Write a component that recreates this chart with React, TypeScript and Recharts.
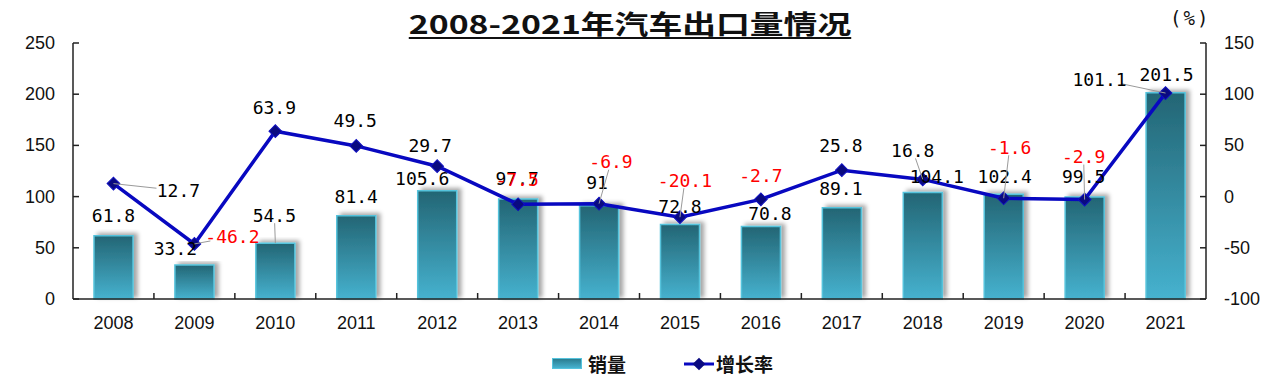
import { Bar, ComposedChart, LabelList, Line, XAxis, YAxis } from "recharts";

const YEARS = ["2008", "2009", "2010", "2011", "2012", "2013", "2014", "2015", "2016", "2017", "2018", "2019", "2020", "2021"];
const SALES = [61.8, 33.2, 54.5, 81.4, 105.6, 97.7, 91, 72.8, 70.8, 89.1, 104.1, 102.4, 99.5, 201.5];
const GROWTH = [12.7, -46.2, 63.9, 49.5, 29.7, -7.5, -6.9, -20.1, -2.7, 25.8, 16.8, -1.6, -2.9, 101.1];
const SALES_TICKS = [0, 50, 100, 150, 200, 250];
const GROWTH_TICKS = [-100, -50, 0, 50, 100, 150];

// hand-placed label offsets (like the Excel original), [dx, dy] from the anchor
const SALES_LABEL_POS = [[0, -20], [-19, -17], [-1, -28], [0, -19], [-15, -12], [-1, -20], [-2, -23], [0, -18], [9, -13], [-1, -19], [14, -16], [1, -18], [-1, -21], [1, -18]];
const GROWTH_LABEL_POS = [[65, 7], [38, -7], [-1, -24], [-1, -25], [-7, -21], [-1, -25], [12, -42], [5, -37], [0, -24], [-1, -25], [-10, -29], [6, -51], [-1, -43], [-66, -14]];

const W = 1280;
const H = 381;
const PLOT_LEFT = 73;
const PLOT_RIGHT = 1206;
const PLOT_BOTTOM = 299;
const AXIS_W = 55;
const BAND = (PLOT_RIGHT - PLOT_LEFT) / YEARS.length;

const data = YEARS.map((year, i) => ({ year, sales: SALES[i], growth: GROWTH[i] }));

const LABEL_FONT = "'DejaVu Sans Mono', 'Liberation Mono', monospace";
const AXIS_FONT = "'Liberation Sans', Arial, sans-serif";
const CJK_FONT = "'Noto Sans CJK SC', 'Noto Sans', sans-serif";

function placedLabel(ax: number, ay: number, off: number[], text: string, color: string, key: string) {
    const lx = ax + off[0];
    const ly = ay + off[1];
    const dist = Math.hypot(off[0], off[1]);
    let leader = null;
    if (dist > 27) {
        const vx = ax - lx;
        const vy = ay - ly;
        const s = Math.min(22 / Math.max(Math.abs(vx), 0.01), 8 / Math.max(Math.abs(vy), 0.01));
        leader = <line x1={ax} y1={ay} x2={lx + vx * s} y2={ly + vy * s} stroke="#9a9a9a" strokeWidth={1} />;
    }
    return (
        <g key={key}>
            {leader}
            <text x={lx} y={ly} textAnchor="middle" dominantBaseline="central" fontFamily={LABEL_FONT} fontSize={18} fill={color}>
                {text}
            </text>
        </g>
    );
}

const SalesLabel = (props: any) => {
    const { x, y, width, index, value } = props;
    return placedLabel(x + width / 2, y, SALES_LABEL_POS[index], String(value), "#000", "s" + index);
};

const GrowthLabel = (props: any) => {
    const { x, y, index, value } = props;
    return placedLabel(x, y, GROWTH_LABEL_POS[index], String(value), value < 0 ? "#ff0000" : "#000", "g" + index);
};

const Diamond = (props: any) => {
    const { cx, cy } = props;
    if (cx == null || cy == null) return null;
    return <rect x={cx - 4.5} y={cy - 4.5} width={9} height={9} fill="#0a0a80" stroke="#1010c0" strokeWidth={1} transform={`rotate(45 ${cx} ${cy})`} />;
};

const XTick = (props: any) => {
    const { x, payload, index } = props;
    return (
        <g>
            {index > 0 && <line x1={x - BAND / 2} y1={PLOT_BOTTOM} x2={x - BAND / 2} y2={PLOT_BOTTOM - 6} stroke="#222" strokeWidth={1.5} />}
            <text x={x} y={323} textAnchor="middle" dominantBaseline="central" fontFamily={AXIS_FONT} fontSize={18} fill="#111">
                {payload.value}
            </text>
        </g>
    );
};

const LeftTick = (props: any) => {
    const { y, payload } = props;
    return (
        <g>
            <line x1={PLOT_LEFT} y1={y} x2={PLOT_LEFT + 6} y2={y} stroke="#222" strokeWidth={1.5} />
            <text x={PLOT_LEFT - 18} y={y} textAnchor="end" dominantBaseline="central" fontFamily={AXIS_FONT} fontSize={18} fill="#111">
                {payload.value}
            </text>
        </g>
    );
};

const RightTick = (props: any) => {
    const { y, payload } = props;
    return (
        <g>
            <line x1={PLOT_RIGHT - 6} y1={y} x2={PLOT_RIGHT} y2={y} stroke="#222" strokeWidth={1.5} />
            <text x={PLOT_RIGHT + 18} y={y} textAnchor="start" dominantBaseline="central" fontFamily={AXIS_FONT} fontSize={18} fill="#111">
                {payload.value}
            </text>
        </g>
    );
};

export default function App() {
    return (
        <div style={{ position: "relative", width: W, height: H, background: "#fff", overflow: "hidden" }}>
            <style>{`body{margin:0}`}</style>
            <div
                style={{
                    position: "absolute",
                    left: 630,
                    top: 6,
                    transform: "translateX(-50%) scaleX(1.3)",
                    fontFamily: CJK_FONT,
                    fontWeight: 700,
                    fontSize: 26,
                    lineHeight: "34px",
                    whiteSpace: "nowrap",
                    textDecoration: "underline",
                    textUnderlineOffset: 3,
                    color: "#111",
                }}
            >
                2008-2021年汽车出口量情况
            </div>
            <div style={{ position: "absolute", left: 1170, top: 7, fontFamily: LABEL_FONT, fontSize: 19, letterSpacing: 2, color: "#111" }}>(%)</div>

            <ComposedChart
                width={W}
                height={H}
                data={data}
                margin={{ top: 43, right: W - PLOT_RIGHT - AXIS_W, bottom: H - PLOT_BOTTOM - 30, left: PLOT_LEFT - AXIS_W }}
            >
                <defs>
                    <linearGradient id="barFill" x1="0" y1="0" x2="0" y2="1">
                        <stop offset="0%" stopColor="#236574" />
                        <stop offset="100%" stopColor="#46b2cf" />
                    </linearGradient>
                    <filter id="barShadow" x="-20%" y="-10%" width="150%" height="120%">
                        <feDropShadow dx={4} dy={-2} stdDeviation={2} floodColor="#000" floodOpacity={0.35} />
                    </filter>
                </defs>
                <XAxis dataKey="year" height={30} axisLine={{ stroke: "#222", strokeWidth: 1.5 }} tickLine={false} tick={<XTick />} interval={0} />
                <YAxis
                    yAxisId="left"
                    width={AXIS_W}
                    domain={[0, 250]}
                    ticks={SALES_TICKS}
                    axisLine={{ stroke: "#222", strokeWidth: 1.5 }}
                    tickLine={false}
                    tick={<LeftTick />}
                />
                <YAxis
                    yAxisId="right"
                    orientation="right"
                    width={AXIS_W}
                    domain={[-100, 150]}
                    ticks={GROWTH_TICKS}
                    axisLine={{ stroke: "#222", strokeWidth: 1.5 }}
                    tickLine={false}
                    tick={<RightTick />}
                />
                <Bar yAxisId="left" dataKey="sales" barSize={39} fill="url(#barFill)" stroke="#55c3dc" strokeWidth={1.5} filter="url(#barShadow)" isAnimationActive={false}>
                    <LabelList dataKey="sales" content={<SalesLabel />} />
                </Bar>
                <Line yAxisId="right" dataKey="growth" stroke="#0808c0" strokeWidth={3.5} dot={<Diamond />} activeDot={false} isAnimationActive={false}>
                    <LabelList dataKey="growth" content={<GrowthLabel />} />
                </Line>
            </ComposedChart>

            <div style={{ position: "absolute", left: 552, top: 350, display: "flex", alignItems: "center", fontFamily: CJK_FONT, fontWeight: 700, fontSize: 19, color: "#111" }}>
                <div style={{ width: 28, height: 9, background: "linear-gradient(#2b7d90, #46b2cf)", border: "1px solid #55c3dc", marginRight: 6 }} />
                <span>销量</span>
                <svg width={30} height={14} style={{ marginLeft: 58, marginRight: 2 }}>
                    <line x1={0} y1={7} x2={30} y2={7} stroke="#0808c0" strokeWidth={3} />
                    <rect x={10.5} y={2.5} width={9} height={9} fill="#0a0a80" transform="rotate(45 15 7)" />
                </svg>
                <span>增长率</span>
            </div>
        </div>
    );
}
